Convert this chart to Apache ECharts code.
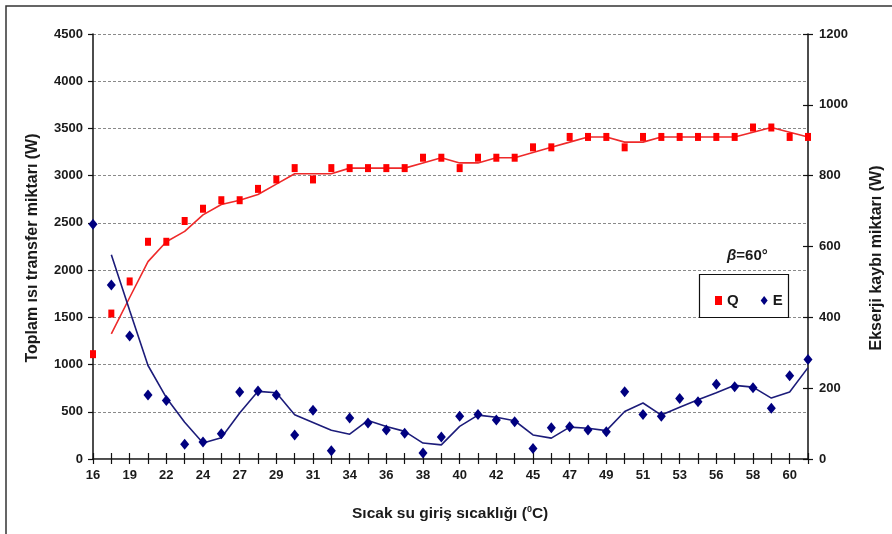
<!DOCTYPE html>
<html>
<head>
<meta charset="utf-8">
<script src="https://cdn.jsdelivr.net/npm/echarts@6/dist/echarts.min.js"></script>
<style>
  html, body { margin: 0; padding: 0; background: #fff; }
  #chart { width: 892px; height: 534px; }
</style>
</head>
<body>
<div id="chart"></div>
<script>
// Hot water inlet temperature (°C)
const temperatures = ['16','18','19','20','22','23','24','25','27','28',
  '29','30','31','33','34','35','36','37','38','39',
  '40','41','42','44','45','46','47','48','49','50',
  '51','52','53','55','56','57','58','59','60','61'];

// Total heat transfer Q (W), left axis
const heatQ = [1110, 1540, 1880, 2300, 2300, 2520, 2650, 2740, 2740, 2860,
  2960, 3080, 2960, 3080, 3080, 3080, 3080, 3080, 3190, 3190,
  3080, 3190, 3190, 3190, 3300, 3300, 3410, 3410, 3410, 3300,
  3410, 3410, 3410, 3410, 3410, 3410, 3510, 3510, 3410, 3410];

// Two-point moving trend of Q (W)
const heatQTrend = [null, 1325, 1710, 2090, 2300, 2410, 2585, 2695, 2740, 2800,
  2910, 3020, 3020, 3020, 3080, 3080, 3080, 3080, 3135, 3190,
  3135, 3135, 3190, 3190, 3245, 3300, 3355, 3410, 3410, 3355,
  3355, 3410, 3410, 3410, 3410, 3410, 3460, 3510, 3460, 3410];

// Exergy loss E (W), right axis
const exergyE = [663, 491, 347, 181, 165, 42, 48, 71, 189, 192,
  181, 68, 138, 23, 116, 102, 82, 73, 17, 62,
  121, 126, 110, 105, 30, 88, 91, 82, 77, 190,
  126, 121, 171, 162, 211, 204, 201, 143, 235, 281];

// Two-point moving trend of E (W)
const exergyETrend = [null, 577, 419, 264, 173, 104, 45, 60, 130, 191,
  187, 125, 103, 81, 70, 109, 92, 78, 45, 40,
  92, 124, 118, 108, 68, 59, 90, 87, 80, 134,
  158, 124, 146, 167, 187, 208, 203, 172, 189, 258];

const FONT = 'Liberation Sans, Arial, sans-serif';
const TXT = '#1a1a1a';
const plain = v => String(v);

const chart = echarts.init(document.getElementById('chart'));

chart.setOption({
  animation: false,
  backgroundColor: '#fff',
  grid: { left: 93, right: 84, top: 34, bottom: 75 },
  xAxis: [
    {
      type: 'category',
      data: temperatures,
      boundaryGap: false,
      axisLine: { lineStyle: { color: '#111', width: 1.5 } },
      axisTick: { show: true, interval: 0, length: 5, inside: false, lineStyle: { color: '#111', width: 1.2 } },
      axisLabel: { interval: 1, margin: 10, color: TXT, fontFamily: FONT, fontWeight: 'bold', fontSize: 13 },
      splitLine: { show: false }
    },
    {
      type: 'category',
      data: temperatures,
      boundaryGap: false,
      position: 'bottom',
      axisLine: { show: false },
      axisTick: { show: true, interval: 0, length: 6, inside: true, lineStyle: { color: '#111', width: 1.2 } },
      axisLabel: { show: false },
      splitLine: { show: false }
    },
    {
      type: 'category',
      data: temperatures,
      boundaryGap: false,
      position: 'top',
      axisLine: { lineStyle: { color: '#555', width: 1.2 } },
      axisTick: { show: false },
      axisLabel: { show: false },
      splitLine: { show: false }
    }
  ],
  yAxis: [
    {
      type: 'value',
      min: 0, max: 4500, interval: 500,
      position: 'left',
      axisLine: { show: true, lineStyle: { color: '#111', width: 1.5 } },
      axisTick: { show: true, length: 5, lineStyle: { color: '#111', width: 1.2 } },
      axisLabel: { margin: 10, color: TXT, fontFamily: FONT, fontWeight: 'bold', fontSize: 13, formatter: plain },
      splitLine: { show: true, lineStyle: { color: '#8a8a8a', type: [3, 2], width: 1 } }
    },
    {
      type: 'value',
      min: 0, max: 1200, interval: 200,
      position: 'right',
      axisLine: { show: true, lineStyle: { color: '#111', width: 1.5 } },
      axisTick: { show: true, length: 5, lineStyle: { color: '#111', width: 1.2 } },
      axisLabel: { margin: 11, color: TXT, fontFamily: FONT, fontWeight: 'bold', fontSize: 13, formatter: plain },
      splitLine: { show: false }
    },
    {
      type: 'value',
      min: 0, max: 1200, interval: 200,
      position: 'right',
      axisLine: { show: false },
      axisTick: { show: true, inside: true, length: 5, lineStyle: { color: '#111', width: 1.2 } },
      axisLabel: { show: false },
      splitLine: { show: false }
    }
  ],
  legend: {
    left: 710, top: 288,
    itemWidth: 7, itemHeight: 9, itemGap: 22,
    textStyle: { color: TXT, fontFamily: FONT, fontWeight: 'bold', fontSize: 15 },
    data: [
      { name: 'Q', icon: 'rect', itemStyle: { color: '#ff0000', opacity: 1 } },
      { name: 'E', icon: 'diamond', itemStyle: { color: '#000080', opacity: 1 } }
    ],
    z: 6
  },
  graphic: [
    {
      type: 'rect', z: 5,
      shape: { x: 6, y: 6, width: 1000, height: 1000 },
      style: { fill: null, stroke: '#333', lineWidth: 1.5 },
      silent: true
    },
    {
      type: 'rect', z: 5,
      shape: { x: 699.5, y: 274.5, width: 89, height: 43 },
      style: { fill: '#fff', stroke: '#111', lineWidth: 1.2 }
    },
    {
      type: 'text', z: 6,
      left: 727, top: 248,
      style: {
        text: '{i|β}=60°',
        fontFamily: FONT, fontSize: 15, fontWeight: 'bold', fill: TXT,
        rich: { i: { fontFamily: FONT, fontSize: 15, fontWeight: 'bold', fontStyle: 'italic', fill: TXT } }
      }
    },
    {
      type: 'text', z: 6,
      left: 352, top: 505,
      style: {
        text: 'Sıcak su giriş sıcaklığı ({s|0}C)',
        fontFamily: FONT, fontSize: 15.5, fontWeight: 'bold', fill: TXT,
        rich: { s: { fontFamily: FONT, fontSize: 9, fontWeight: 'bold', fill: TXT, verticalAlign: 'top', padding: [0, 0, 9, 0] } }
      }
    },
    {
      type: 'text', z: 6,
      x: 33, y: 248,
      rotation: Math.PI / 2,
      style: {
        text: 'Toplam ısı transfer miktarı (W)',
        fontFamily: FONT, fontSize: 16, fontWeight: 'bold', fill: TXT,
        align: 'center', verticalAlign: 'middle'
      }
    },
    {
      type: 'text', z: 6,
      x: 877, y: 258,
      rotation: Math.PI / 2,
      style: {
        text: 'Ekserji kaybı miktarı (W)',
        fontFamily: FONT, fontSize: 16, fontWeight: 'bold', fill: TXT,
        align: 'center', verticalAlign: 'middle'
      }
    }
  ],
  series: [
    {
      name: 'Q trend', type: 'line', xAxisIndex: 0, yAxisIndex: 0,
      data: heatQTrend, showSymbol: false, connectNulls: false,
      lineStyle: { color: '#ee2a2a', width: 1.6 }, z: 2, silent: true
    },
    {
      name: 'E trend', type: 'line', xAxisIndex: 0, yAxisIndex: 1,
      data: exergyETrend, showSymbol: false,
      lineStyle: { color: '#1c1c7a', width: 1.6 }, z: 2, silent: true
    },
    {
      name: 'Q', type: 'scatter', xAxisIndex: 0, yAxisIndex: 0,
      data: heatQ, symbol: 'rect', symbolSize: [6, 8],
      itemStyle: { color: '#ff0000', opacity: 1 }, z: 3
    },
    {
      name: 'E', type: 'scatter', xAxisIndex: 0, yAxisIndex: 1,
      data: exergyE, symbol: 'diamond', symbolSize: [9, 11],
      itemStyle: { color: '#000080', opacity: 1 }, z: 3
    }
  ]
});
</script>
</body>
</html>
